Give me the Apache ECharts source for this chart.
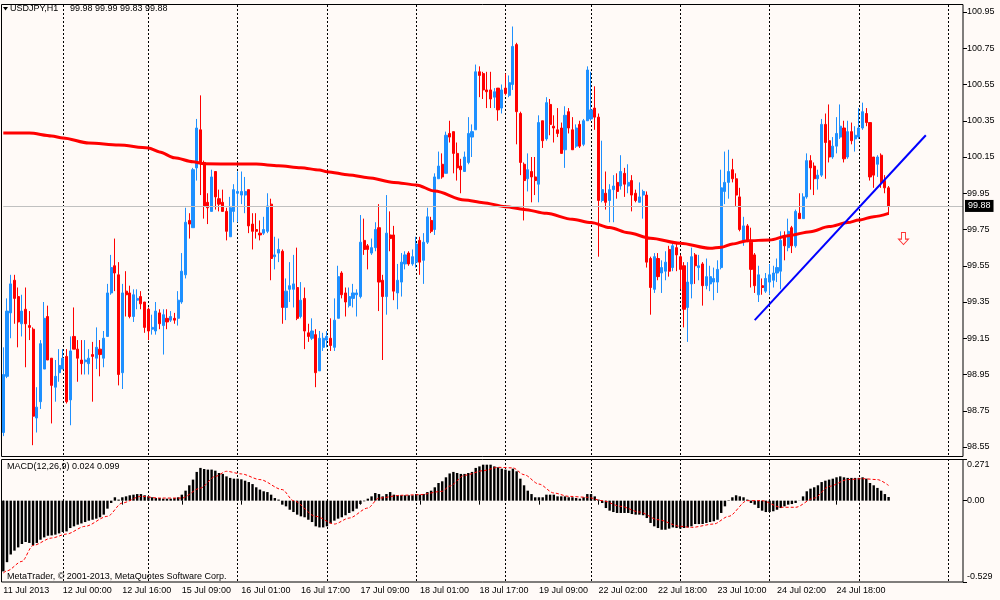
<!DOCTYPE html>
<html>
<head>
<meta charset="utf-8">
<script src="https://cdn.jsdelivr.net/npm/echarts@6/dist/echarts.min.js"></script>
<style>html,body{margin:0;padding:0;background:#fffaf7}#c{width:1000px;height:600px}</style>
</head>
<body>
<div id="c"></div>
<script>
// ---- data ----
var tickLabels = ['11 Jul 2013','12 Jul 00:00','12 Jul 16:00','15 Jul 09:00','16 Jul 01:00','16 Jul 17:00','17 Jul 09:00','18 Jul 01:00','18 Jul 17:00','19 Jul 09:00','22 Jul 02:00','22 Jul 18:00','23 Jul 10:00','24 Jul 02:00','24 Jul 18:00'];
var gridLineIdx = [16,39,63,87,111,135,158,182,206,230,254];
var priceTicks = [100.95,100.75,100.55,100.35,100.15,99.95,99.75,99.55,99.35,99.15,98.95,98.75,98.55];
var macdTicks = [0.271,0,-0.529];

var openP = [
98.63,98.94,99.29,99.47,99.38,99.23,99.31,99.22,99.20,98.71,
98.80,98.98,99.27,99.04,98.88,98.96,98.98,99.05,98.81,99.16,
99.09,99.03,99.02,99.01,99.06,99.04,99.09,99.04,99.16,99.40,
99.55,99.50,98.96,99.41,99.40,99.27,99.36,99.38,99.35,99.31,
99.20,99.19,99.29,99.22,99.26,99.25,99.26,99.26,99.35,99.50,
99.80,99.76,100.09,100.30,100.12,99.90,99.85,100.07,99.92,99.90,
99.85,99.71,99.85,99.95,99.94,99.94,99.97,99.78,99.75,99.73,
99.73,99.74,99.89,99.60,99.62,99.63,99.32,99.42,99.42,99.43,
99.27,99.37,99.18,99.15,99.17,98.97,99.10,99.14,99.15,99.10,
99.26,99.51,99.40,99.33,99.37,99.39,99.38,99.69,99.66,99.62,
99.65,99.76,99.47,99.38,99.72,99.72,99.40,99.46,99.56,99.62,
99.56,99.57,99.69,99.58,99.68,99.80,99.75,100.03,100.11,100.06,
100.28,100.29,100.17,100.10,100.07,100.12,100.26,100.30,100.62,100.61,
100.52,100.52,100.48,100.53,100.42,100.53,100.49,100.55,100.77,100.39,
100.11,100.03,100.07,100.04,100.00,100.35,100.25,100.44,100.32,100.30,
100.31,100.19,100.40,100.30,100.21,100.33,100.22,100.35,100.36,100.42,
100.37,99.91,99.95,99.91,99.97,100.01,99.99,100.06,99.99,100.02,
99.95,99.90,99.94,99.94,99.59,99.42,99.59,99.51,99.52,99.64,
99.54,99.65,99.60,99.55,99.32,99.45,99.61,99.54,99.56,99.44,
99.45,99.46,99.46,99.54,99.96,100.01,100.08,100.03,99.93,99.69,
99.77,99.68,99.61,99.39,99.44,99.41,99.46,99.47,99.51,99.52,
99.71,99.65,99.76,99.66,99.84,99.81,99.93,100.13,100.10,100.03,
100.05,100.33,100.24,100.15,100.21,100.26,100.31,100.15,100.29,100.25,
100.26,100.31,100.39,100.34,100.15,100.11,100.16,100.02,99.98];

var highP = [
99.10,99.37,99.50,99.50,99.43,99.39,99.43,99.30,99.21,98.88,
99.14,99.35,99.33,99.04,99.03,99.09,99.09,99.09,99.16,99.32,
99.14,99.14,99.14,99.09,99.13,99.21,99.14,99.19,99.45,99.61,
99.70,99.57,99.45,99.52,99.44,99.42,99.42,99.41,99.35,99.32,
99.28,99.35,99.31,99.31,99.31,99.30,99.29,99.41,99.62,99.87,
99.84,100.09,100.36,100.49,100.13,99.95,100.08,100.07,99.97,99.97,
99.87,99.93,100.00,100.07,100.07,100.04,99.97,99.84,99.84,99.80,
99.82,99.95,99.92,99.71,99.70,99.64,99.48,99.57,99.61,99.65,
99.46,99.43,99.23,99.26,99.20,99.19,99.18,99.19,99.26,99.37,
99.55,99.52,99.43,99.43,99.45,99.42,99.83,99.81,99.67,99.70,
99.79,99.89,99.50,99.94,99.85,99.77,99.56,99.62,99.63,99.63,
99.64,99.71,99.71,99.73,99.87,99.82,100.06,100.18,100.17,100.29,
100.35,100.29,100.23,100.14,100.18,100.37,100.33,100.66,100.65,100.62,
100.62,100.62,100.53,100.53,100.55,100.61,100.60,100.87,100.78,100.40,
100.12,100.17,100.15,100.15,100.38,100.35,100.48,100.47,100.38,100.42,
100.34,100.43,100.42,100.37,100.33,100.35,100.36,100.65,100.62,100.54,
100.39,100.24,100.07,100.00,100.05,100.06,100.16,100.09,100.11,100.05,
99.97,100.01,99.97,99.96,99.60,99.62,99.62,99.58,99.63,99.66,
99.67,99.67,99.61,99.57,99.57,99.65,99.62,99.61,99.57,99.59,
99.55,99.54,99.58,100.08,100.18,100.19,100.14,100.06,99.98,99.82,
99.78,99.76,99.62,99.55,99.48,99.51,99.56,99.55,99.59,99.74,
99.74,99.81,99.77,99.86,99.95,99.95,100.17,100.16,100.12,100.08,
100.36,100.39,100.44,100.26,100.37,100.44,100.35,100.35,100.34,100.32,
100.42,100.45,100.42,100.34,100.15,100.16,100.17,100.05,99.99];

var lowP = [
98.61,98.93,99.15,99.23,99.10,99.16,98.99,99.14,98.56,98.63,
98.76,98.98,99.03,98.68,98.80,98.91,98.98,98.79,98.67,99.09,
98.91,98.95,98.95,98.95,98.80,98.98,98.94,98.99,99.16,99.39,
99.41,98.89,98.87,99.27,99.26,99.24,99.31,99.31,99.18,99.14,
99.17,99.17,99.20,99.06,99.20,99.24,99.23,99.22,99.34,99.48,
99.70,99.76,100.02,99.94,99.81,99.78,99.85,99.86,99.85,99.85,
99.69,99.71,99.79,99.79,99.89,99.84,99.73,99.64,99.70,99.69,
99.72,99.73,99.47,99.53,99.57,99.23,99.25,99.35,99.32,99.25,
99.26,99.09,99.13,99.14,98.88,98.97,99.08,99.10,99.08,99.08,
99.26,99.37,99.27,99.32,99.32,99.27,99.37,99.61,99.53,99.61,
99.63,99.30,99.03,99.28,99.63,99.36,99.31,99.38,99.53,99.55,
99.55,99.54,99.50,99.45,99.67,99.73,99.72,100.03,100.03,100.06,
100.23,100.06,100.02,99.95,100.07,100.11,100.15,100.30,100.48,100.47,
100.42,100.42,100.42,100.35,100.39,100.49,100.48,100.52,100.22,100.05,
99.80,99.96,99.90,99.94,99.90,100.20,100.24,100.27,100.23,100.26,
100.17,100.09,100.28,100.19,100.20,100.20,100.21,100.35,100.35,100.30,
99.60,99.90,99.86,99.79,99.79,99.92,99.97,99.93,99.95,99.85,
99.90,99.90,99.81,99.54,99.28,99.40,99.47,99.40,99.47,99.49,
99.52,99.52,99.42,99.21,99.13,99.37,99.45,99.47,99.33,99.42,
99.41,99.36,99.40,99.53,99.89,99.92,100.01,99.88,99.74,99.66,
99.68,99.43,99.40,99.35,99.39,99.40,99.39,99.43,99.46,99.42,
99.58,99.63,99.62,99.65,99.81,99.81,99.92,99.97,99.94,99.97,
100.04,100.03,100.12,100.14,100.17,100.25,100.12,100.14,100.22,100.18,
100.25,100.30,100.32,100.02,99.98,100.04,99.98,99.95,99.83];

var closeP = [
98.95,99.30,99.45,99.37,99.24,99.30,99.23,99.21,98.72,98.77,
99.12,99.26,99.03,98.89,98.94,99.00,99.04,98.80,99.08,99.09,
99.04,99.01,99.03,99.04,99.05,99.10,99.06,99.15,99.40,99.54,
99.51,98.95,99.40,99.39,99.27,99.39,99.37,99.34,99.21,99.19,
99.21,99.30,99.23,99.28,99.24,99.27,99.25,99.36,99.52,99.79,
99.78,100.08,100.31,100.12,99.88,99.87,100.04,99.93,99.89,99.85,
99.74,99.87,99.97,99.96,99.96,99.96,99.77,99.74,99.74,99.72,
99.75,99.88,99.59,99.61,99.64,99.32,99.41,99.44,99.45,99.26,
99.36,99.19,99.16,99.19,98.96,99.15,99.15,99.16,99.11,99.25,
99.49,99.39,99.35,99.38,99.40,99.40,99.68,99.64,99.64,99.65,
99.75,99.46,99.38,99.73,99.70,99.41,99.47,99.57,99.61,99.56,
99.60,99.67,99.57,99.68,99.82,99.74,100.04,100.10,100.04,100.27,
100.26,100.17,100.09,100.08,100.15,100.28,100.29,100.62,100.60,100.52,
100.51,100.47,100.51,100.41,100.52,100.50,100.56,100.76,100.40,100.12,
100.02,100.08,100.04,100.02,100.34,100.24,100.45,100.33,100.31,100.28,
100.17,100.38,100.31,100.19,100.31,100.21,100.35,100.63,100.41,100.37,
99.91,99.97,99.90,99.97,99.99,99.96,100.07,100.00,100.01,99.94,
99.91,99.93,99.96,99.57,99.43,99.60,99.49,99.54,99.57,99.52,
99.66,99.61,99.53,99.31,99.46,99.60,99.55,99.55,99.44,99.49,
99.49,99.48,99.53,99.98,100.01,100.07,100.03,99.94,99.75,99.77,
99.69,99.53,99.44,99.50,99.43,99.48,99.50,99.51,99.54,99.69,
99.66,99.74,99.66,99.85,99.81,99.93,100.13,100.09,100.03,100.05,
100.33,100.23,100.15,100.21,100.28,100.32,100.14,100.29,100.24,100.27,
100.31,100.40,100.34,100.04,100.05,100.15,100.01,99.98,99.88];

// moving average, sampled points along the drawn line (bar index, price)
var maIdx = [0,7,13,16,23,31,39,42,46,51,54,63,68,74,80,85,87,93,98,105,111,116,124,129,135,140,146,153,158,163,168,174,182,190,193,196,200,206,211,217,222,227,230,234,238];
var maVal = [100.282,100.282,100.266,100.255,100.227,100.216,100.200,100.178,100.146,100.124,100.113,100.111,100.111,100.102,100.091,100.078,100.069,100.051,100.036,100.010,99.996,99.962,99.913,99.898,99.876,99.861,99.839,99.806,99.788,99.761,99.732,99.702,99.674,99.646,99.652,99.670,99.688,99.692,99.716,99.738,99.766,99.788,99.802,99.821,99.839];

// MACD histogram per bar
var macdHist = [
-0.46,-0.40,-0.35,-0.325,-0.304,-0.282,-0.269,-0.275,-0.29,-0.275,
-0.254,-0.239,-0.228,-0.226,-0.221,-0.213,-0.204,-0.20,-0.178,-0.167,
-0.156,-0.148,-0.139,-0.13,-0.124,-0.117,-0.108,-0.091,-0.052,-0.015,
0.022,0.007,0.022,0.028,0.035,0.039,0.043,0.043,0.035,0.028,
0.022,0.017,0.017,0.013,0.013,0.013,0.017,0.022,0.039,0.065,
0.10,0.137,0.187,0.213,0.206,0.202,0.202,0.195,0.18,0.174,
0.158,0.148,0.143,0.143,0.139,0.13,0.121,0.108,0.087,0.072,
0.061,0.056,0.039,0.017,0.007,-0.026,-0.037,-0.059,-0.074,-0.091,
-0.102,-0.108,-0.124,-0.139,-0.167,-0.174,-0.174,-0.167,-0.148,-0.13,
-0.117,-0.108,-0.095,-0.08,-0.069,-0.052,-0.022,-0.004,0.013,0.028,
0.05,0.043,0.028,0.043,0.056,0.039,0.035,0.035,0.035,0.035,
0.035,0.043,0.039,0.043,0.056,0.065,0.087,0.115,0.126,0.152,
0.177,0.187,0.18,0.174,0.174,0.18,0.187,0.213,0.223,0.234,
0.234,0.234,0.223,0.217,0.208,0.202,0.195,0.208,0.191,0.143,
0.10,0.065,0.043,0.022,0.022,0.022,0.039,0.039,0.039,0.028,
0.028,0.028,0.022,0.022,0.017,0.013,0.022,0.043,0.043,0.028,
0.007,-0.015,-0.048,-0.065,-0.074,-0.08,-0.08,-0.08,-0.08,-0.087,
-0.091,-0.091,-0.095,-0.113,-0.145,-0.167,-0.178,-0.189,-0.189,-0.182,
-0.174,-0.178,-0.182,-0.178,-0.174,-0.167,-0.152,-0.152,-0.152,-0.145,
-0.139,-0.134,-0.124,-0.08,-0.037,0.003,0.022,0.035,0.028,0.022,
0.007,-0.015,-0.026,-0.048,-0.065,-0.074,-0.074,-0.069,-0.059,-0.048,
-0.037,-0.026,-0.022,-0.015,0.001,0.028,0.061,0.078,0.087,0.10,
0.121,0.13,0.137,0.143,0.152,0.158,0.152,0.148,0.148,0.148,
0.148,0.152,0.143,0.115,0.10,0.083,0.065,0.043,0.024];

// MACD signal line, sampled points (bar index, value)
var sigIdx = [0,1,5,8,13,17,22,28,32,37,42,48,53,57,60,64,69,75,78,84,89,93,98,101,107,112,118,120,124,129,133,137,140,144,148,152,157,161,166,171,176,182,185,191,195,200,204,209,213,218,222,227,231,235,238];
var sigVal = [-0.47,-0.456,-0.395,-0.291,-0.243,-0.217,-0.167,-0.102,-0.015,0.028,0.017,0.017,0.082,0.158,0.191,0.174,0.137,0.072,0.0,-0.102,-0.152,-0.113,-0.048,0.017,0.035,0.039,0.061,0.095,0.165,0.195,0.217,0.213,0.169,0.108,0.05,0.028,0.022,0.0,-0.037,-0.074,-0.124,-0.167,-0.174,-0.152,-0.102,0.0,0.0,-0.043,-0.043,0.017,0.093,0.137,0.143,0.137,0.099];

// trend line end points (bar index, price), bid price, arrow position
var trendIdx = [202, 248];
var trendVal = [99.25, 100.27];
var bidPrice = 99.88;
var arrowPoint = [242, 99.70];
var nCats = 259;

// ---- build ----
var cats = [];
for (var i = 0; i < nCats; i++) cats.push(String(i));
var candles = openP.map(function (o, k) { return [o, closeP[k], lowP[k], highP[k]]; });
var maData = maIdx.map(function (x, k) { return [x, maVal[k]]; });
var sigData = sigIdx.map(function (x, k) { return [x, sigVal[k]]; });
var trendData = trendIdx.map(function (x, k) { return [x, trendVal[k]]; });

var FF = 'Liberation Sans';
var FS = 9;
function isTick(i) { return i % 16 === 0 && (i / 16) < tickLabels.length; }
function isGrid(i) { return gridLineIdx.indexOf(i) >= 0; }
var splitStyle = { show: true, interval: function (i) { return isGrid(i); }, lineStyle: { color: '#000', type: [2, 2], width: 1 } };

var chart = echarts.init(document.getElementById('c'), null, { renderer: 'canvas' });
chart.setOption({
  animation: false,
  backgroundColor: '#fffaf7',
  grid: [
    { left: 3.3, right: 37, top: 5, height: 452 },
    { left: 3.3, right: 37, top: 459, height: 123 }
  ],
  xAxis: [
    { gridIndex: 0, type: 'category', data: cats, boundaryGap: false,
      axisLine: { show: false }, axisTick: { show: false }, axisLabel: { show: false },
      splitLine: splitStyle },
    { gridIndex: 1, type: 'category', data: cats, boundaryGap: false,
      axisLine: { show: false },
      axisTick: { show: true, interval: function (i) { return isTick(i); }, length: 4, lineStyle: { color: '#000' } },
      axisLabel: { show: true, interval: function (i) { return isTick(i); },
        formatter: function (v, i) { return tickLabels[Math.round(i / 16)] || ''; },
        align: 'left', margin: 4, fontSize: FS, fontFamily: FF, color: '#000' },
      splitLine: splitStyle }
  ],
  yAxis: [
    { gridIndex: 0, type: 'value', position: 'right', min: 98.49483, max: 100.98862,
      axisLine: { show: false }, splitLine: { show: false },
      axisTick: { show: true, customValues: priceTicks, length: 4, lineStyle: { color: '#000' } },
      axisLabel: { customValues: priceTicks, formatter: function (v) { return v.toFixed(2); },
        margin: 4, fontSize: FS, fontFamily: FF, color: '#000' } },
    { gridIndex: 1, type: 'value', position: 'right', min: -0.529, max: 0.271,
      axisLine: { show: false }, splitLine: { show: false },
      axisTick: { show: true, customValues: macdTicks, length: 4, lineStyle: { color: '#000' } },
      axisLabel: { customValues: macdTicks, margin: 4, fontSize: FS, fontFamily: FF, color: '#000',
        formatter: function (v) {
          if (v > 0.1) return '{t|' + v.toFixed(3) + '}';
          if (v < -0.1) return '{b|' + v.toFixed(3) + '}';
          return '{m|0.00}';
        },
        rich: {
          t: { fontSize: FS, fontFamily: FF, color: '#000', padding: [12, 0, 0, 0] },
          b: { fontSize: FS, fontFamily: FF, color: '#000', padding: [0, 0, 10, 0] },
          m: { fontSize: FS, fontFamily: FF, color: '#000' }
        } } }
  ],
  series: [
    { type: 'candlestick', xAxisIndex: 0, yAxisIndex: 0, data: candles, barWidth: 2.6, clip: false,
      itemStyle: { color: '#1e90ff', color0: '#ff0000', borderColor: '#1e90ff', borderColor0: '#ff0000', borderWidth: 1 },
      markLine: { silent: true, symbol: ['none', 'none'], animation: false,
        lineStyle: { color: '#c0c0c0', type: 'solid', width: 1 },
        label: { show: true, position: 'end', distance: 2, formatter: bidPrice.toFixed(2),
          backgroundColor: '#000', color: '#fff', fontSize: FS, fontFamily: FF, padding: [2, 3, 1, 3] },
        data: [{ yAxis: bidPrice }] } },
    { type: 'line', xAxisIndex: 0, yAxisIndex: 0, data: maData, smooth: 0.3, smoothMonotone: 'x',
      showSymbol: false, symbol: 'none', lineStyle: { color: '#ff0000', width: 3 }, z: 4 },
    { type: 'line', xAxisIndex: 0, yAxisIndex: 0, data: trendData, showSymbol: false, symbol: 'none',
      lineStyle: { color: '#0000ff', width: 2 }, z: 5 },
    { type: 'scatter', xAxisIndex: 0, yAxisIndex: 0, data: [arrowPoint],
      symbol: 'path://M3,0 L7,0 L7,6 L10,6 L5,11 L0,6 L3,6 Z', symbolSize: [10, 12],
      itemStyle: { color: '#fffaf7', borderColor: '#ff0000', borderWidth: 1 }, z: 5 },
    { type: 'bar', xAxisIndex: 1, yAxisIndex: 1, data: macdHist, barWidth: 2.4,
      itemStyle: { color: '#000' } },
    { type: 'line', xAxisIndex: 1, yAxisIndex: 1, data: sigData, smooth: 0.3, smoothMonotone: 'x',
      showSymbol: false, symbol: 'none', lineStyle: { color: '#ff0000', width: 1, type: [3, 2] }, z: 4 }
  ],
  graphic: [
    { type: 'rect', shape: { x: 1.5, y: 4.5, width: 961.5, height: 452 }, style: { fill: 'none', stroke: '#000', lineWidth: 1 }, z: 100, silent: true },
    { type: 'rect', shape: { x: 1.5, y: 459.5, width: 961.5, height: 122.5 }, style: { fill: 'none', stroke: '#000', lineWidth: 1 }, z: 100, silent: true },
    { type: 'polygon', shape: { points: [[3, 7], [8, 7], [5.5, 10.5]] }, style: { fill: '#000' }, z: 100, silent: true },
    { type: 'text', x: 10, y: 9, style: { text: 'USDJPY,H1', fontSize: FS, fontFamily: FF, fill: '#000', verticalAlign: 'middle' }, z: 100, silent: true },
    { type: 'text', x: 70, y: 9, style: { text: '99.98 99.99 99.83 99.88', fontSize: FS, fontFamily: FF, fill: '#000', verticalAlign: 'middle' }, z: 100, silent: true },
    { type: 'text', x: 7, y: 467, style: { text: 'MACD(12,26,9) 0.024 0.099', fontSize: FS, fontFamily: FF, fill: '#000', verticalAlign: 'middle' }, z: 100, silent: true },
    { type: 'text', x: 7, y: 577, style: { text: 'MetaTrader, \u00a9 2001-2013, MetaQuotes Software Corp.', fontSize: FS, fontFamily: FF, fill: '#000', verticalAlign: 'middle' }, z: 100, silent: true }
  ]
});
</script>
</body>
</html>
